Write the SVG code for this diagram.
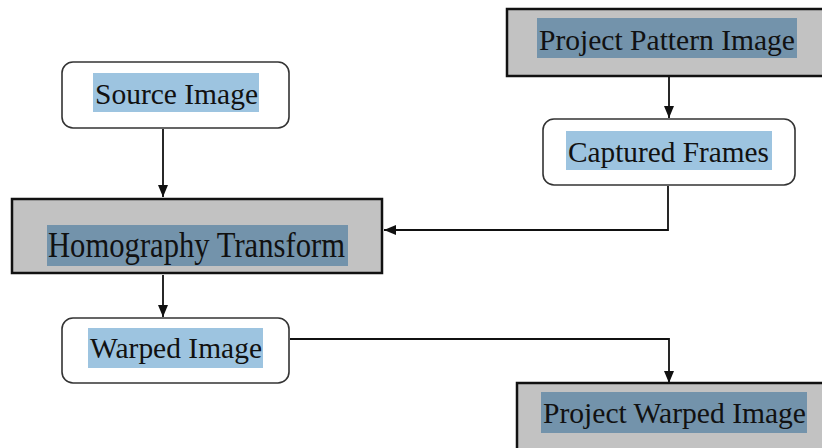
<svg xmlns="http://www.w3.org/2000/svg" width="822" height="448" viewBox="0 0 822 448">
<style>
.sq{fill:#c2c2c2;stroke:#111;stroke-width:2.5}
.rd{fill:#fff;stroke:#333;stroke-width:1.6}
.hd{fill:#7393ab}
.hl{fill:#9dc4e0}
.t{font-family:"Liberation Serif","Times New Roman",serif;font-size:30px;fill:#111}
.c{fill:none;stroke:#111;stroke-width:1.8}
</style>
<defs>
<marker id="ah" viewBox="0 0 12 10" refX="12" refY="5" markerWidth="12" markerHeight="11" markerUnits="userSpaceOnUse" orient="auto">
<path d="M0,0 L12,5 L0,10 Z" fill="#111"/>
</marker>
</defs>
<rect width="822" height="448" fill="#fff"/>
<g id="connectors">
<line class="c" x1="669" y1="77" x2="669" y2="118" marker-end="url(#ah)"/>
<polyline class="c" points="668,186 668,230 384,230" marker-end="url(#ah)"/>
<line class="c" x1="163" y1="129" x2="163" y2="197" marker-end="url(#ah)"/>
<line class="c" x1="163" y1="275" x2="163" y2="317" marker-end="url(#ah)"/>
<polyline class="c" points="290,339 669,339 669,383" marker-end="url(#ah)"/>
</g>
<g id="project-pattern-image">
<rect class="sq" x="507" y="9" width="330" height="67"/>
<rect class="hd" x="537" y="18" width="260" height="40"/>
<text class="t" x="539" y="50" textLength="256" lengthAdjust="spacingAndGlyphs">Project Pattern Image</text>
</g>
<g id="captured-frames">
<rect class="rd" x="543" y="119" width="252" height="66" rx="11"/>
<rect class="hl" x="566" y="131" width="206" height="39"/>
<text class="t" x="568" y="162" textLength="201" lengthAdjust="spacingAndGlyphs">Captured Frames</text>
</g>
<g id="source-image">
<rect class="rd" x="62" y="62" width="227" height="66" rx="11"/>
<rect class="hl" x="93" y="73" width="166" height="39"/>
<text class="t" x="95" y="104" textLength="163" lengthAdjust="spacingAndGlyphs">Source Image</text>
</g>
<g id="homography-transform">
<rect class="sq" x="12" y="199" width="370" height="74"/>
<rect class="hd" x="47" y="225" width="301" height="41"/>
<text class="t" x="48" y="257" textLength="297" lengthAdjust="spacingAndGlyphs" transform="translate(0,-42.8) scale(1,1.167)">Homography Transform</text>
</g>
<g id="warped-image">
<rect class="rd" x="62" y="318" width="227" height="65" rx="11"/>
<rect class="hl" x="88" y="328" width="175" height="40"/>
<text class="t" x="90" y="358" textLength="172" lengthAdjust="spacingAndGlyphs">Warped Image</text>
</g>
<g id="project-warped-image">
<rect class="sq" x="517" y="383" width="320" height="80"/>
<rect class="hd" x="541" y="392" width="266" height="41"/>
<text class="t" x="543" y="423" textLength="263" lengthAdjust="spacingAndGlyphs">Project Warped Image</text>
</g>
</svg>
